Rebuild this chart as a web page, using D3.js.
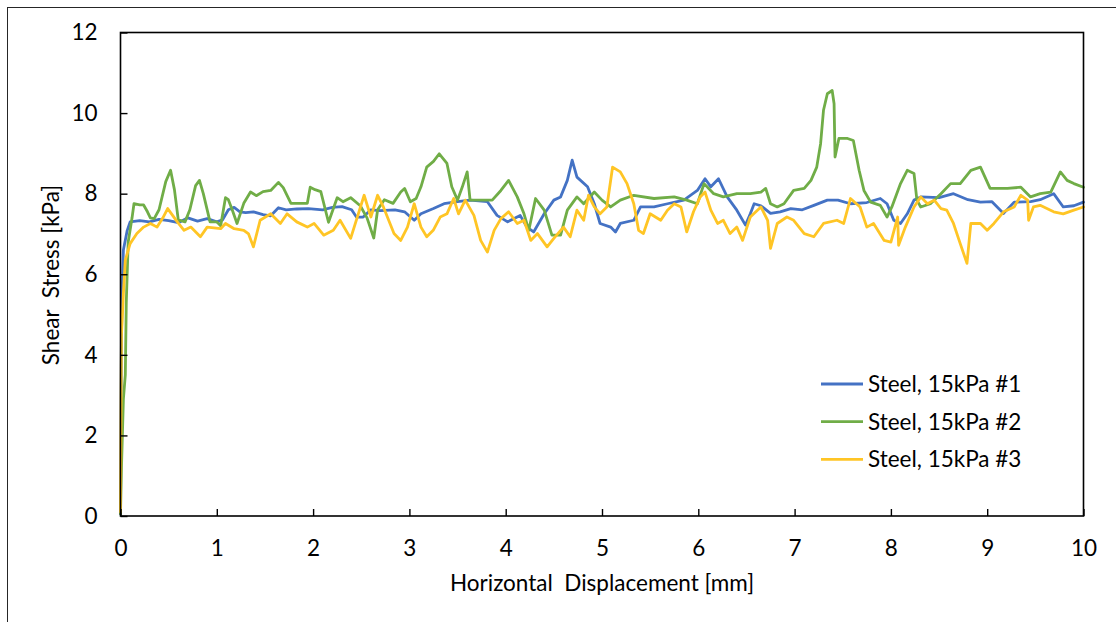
<!DOCTYPE html>
<html><head><meta charset="utf-8">
<script src="https://cdn.jsdelivr.net/npm/d3@7"></script>
<style>
html,body{margin:0;padding:0;background:#fff;}
svg{display:block;font-family:Lato,"Open Sans",sans-serif;}
</style></head>
<body><svg id="chart" width="1116" height="622"></svg>
<script>
const seriesNames = ["Steel, 15kPa #1", "Steel, 15kPa #2", "Steel, 15kPa #3"];
const seriesColors = ["#4472C4", "#70AD47", "#FFC525"];
const xTicks = [0,1,2,3,4,5,6,7,8,9,10];
const yTicks = [0,2,4,6,8,10,12];
const xLabel = "Horizontal  Displacement [mm]";
const yLabel = "Shear  Stress [kPa]";

// [displacement mm, shear stress kPa]
const steel1 = [[0,0.05],[0.005,2.5],[0.01,4.5],[0.02,5.8],[0.03,6.6],[0.07,7.09],[0.1,7.3],[0.2,7.33],[0.3,7.3],[0.4,7.36],[0.5,7.33],[0.6,7.28],[0.7,7.4],[0.8,7.32],[0.9,7.38],[1.0,7.3],[1.06,7.35],[1.12,7.6],[1.18,7.66],[1.24,7.55],[1.3,7.53],[1.38,7.55],[1.48,7.48],[1.56,7.45],[1.64,7.65],[1.72,7.6],[1.83,7.62],[1.95,7.63],[2.1,7.6],[2.2,7.66],[2.3,7.68],[2.4,7.6],[2.45,7.42],[2.52,7.42],[2.6,7.6],[2.7,7.58],[2.85,7.6],[2.95,7.55],[3.05,7.34],[3.12,7.5],[3.25,7.63],[3.36,7.75],[3.5,7.8],[3.63,7.84],[3.81,7.8],[3.91,7.46],[4.02,7.3],[4.15,7.46],[4.22,7.17],[4.29,7.05],[4.4,7.5],[4.5,7.84],[4.57,7.92],[4.64,8.33],[4.69,8.83],[4.74,8.41],[4.85,8.17],[4.92,7.75],[4.98,7.26],[5.09,7.17],[5.14,7.05],[5.19,7.26],[5.33,7.34],[5.4,7.67],[5.54,7.67],[5.68,7.75],[5.85,7.84],[5.99,8.08],[6.07,8.37],[6.13,8.17],[6.21,8.37],[6.3,7.92],[6.4,7.59],[6.49,7.22],[6.54,7.5],[6.58,7.75],[6.65,7.7],[6.75,7.51],[6.85,7.55],[6.96,7.63],[7.08,7.6],[7.2,7.71],[7.34,7.84],[7.45,7.84],[7.58,7.75],[7.75,7.78],[7.89,7.88],[7.96,7.75],[8.03,7.34],[8.1,7.26],[8.17,7.5],[8.24,7.84],[8.31,7.92],[8.5,7.9],[8.65,8.0],[8.8,7.85],[8.93,7.79],[9.05,7.8],[9.17,7.51],[9.28,7.79],[9.45,7.8],[9.55,7.85],[9.69,8.0],[9.79,7.67],[9.9,7.7],[10.0,7.79]];

const steel2 = [[0,0.05],[0.01,1.2],[0.03,2.9],[0.05,3.5],[0.06,5.3],[0.08,6.8],[0.12,7.4],[0.14,7.75],[0.2,7.72],[0.24,7.72],[0.28,7.55],[0.31,7.4],[0.35,7.38],[0.4,7.6],[0.47,8.3],[0.52,8.58],[0.56,8.1],[0.6,7.35],[0.67,7.3],[0.72,7.6],[0.78,8.2],[0.82,8.33],[0.86,8.0],[0.93,7.3],[1.0,7.3],[1.04,7.2],[1.09,7.9],[1.12,7.85],[1.16,7.6],[1.21,7.26],[1.28,7.76],[1.35,8.04],[1.41,7.95],[1.48,8.05],[1.56,8.08],[1.64,8.28],[1.69,8.15],[1.77,7.76],[1.87,7.76],[1.94,7.76],[1.97,8.16],[2.02,8.1],[2.08,8.05],[2.16,7.29],[2.25,7.9],[2.31,7.8],[2.39,7.9],[2.49,7.7],[2.56,7.4],[2.63,6.9],[2.67,7.6],[2.74,7.85],[2.83,7.76],[2.91,8.04],[2.95,8.13],[3.01,7.8],[3.07,7.88],[3.12,8.17],[3.18,8.66],[3.25,8.8],[3.31,8.99],[3.39,8.75],[3.44,8.17],[3.5,7.84],[3.55,8.17],[3.6,8.54],[3.63,7.84],[3.74,7.84],[3.86,7.84],[3.95,8.08],[4.03,8.33],[4.12,7.92],[4.19,7.5],[4.24,7.09],[4.31,7.88],[4.4,7.59],[4.48,6.97],[4.57,6.97],[4.64,7.59],[4.74,7.92],[4.81,7.75],[4.92,8.04],[5.0,7.84],[5.09,7.67],[5.19,7.84],[5.33,7.96],[5.54,7.88],[5.75,7.92],[5.88,7.84],[5.99,7.75],[6.06,8.25],[6.16,8.0],[6.26,7.92],[6.4,8.0],[6.54,8.0],[6.65,8.04],[6.7,8.13],[6.75,7.75],[6.82,7.67],[6.89,7.75],[6.99,8.08],[7.1,8.13],[7.17,8.33],[7.23,8.66],[7.27,9.24],[7.3,10.07],[7.34,10.48],[7.39,10.56],[7.41,10.23],[7.42,8.91],[7.46,9.37],[7.55,9.37],[7.61,9.32],[7.67,8.58],[7.72,8.08],[7.79,7.79],[7.89,7.71],[7.96,7.42],[8.01,7.67],[8.1,8.25],[8.17,8.58],[8.24,8.5],[8.27,7.84],[8.31,7.67],[8.41,7.75],[8.52,8.0],[8.62,8.25],[8.72,8.25],[8.83,8.58],[8.93,8.66],[9.03,8.13],[9.21,8.13],[9.35,8.16],[9.45,7.92],[9.55,8.0],[9.66,8.04],[9.76,8.54],[9.83,8.33],[9.9,8.25],[10.0,8.16]];

const steel3 = [[0,0.1],[0.005,2.5],[0.01,4.5],[0.03,5.52],[0.05,6.35],[0.1,6.76],[0.17,7.01],[0.24,7.17],[0.31,7.26],[0.38,7.17],[0.44,7.4],[0.49,7.63],[0.59,7.3],[0.66,7.09],[0.73,7.17],[0.83,6.93],[0.9,7.17],[1.04,7.13],[1.09,7.26],[1.18,7.13],[1.28,7.09],[1.33,7.0],[1.38,6.68],[1.45,7.34],[1.56,7.5],[1.66,7.26],[1.73,7.5],[1.83,7.3],[1.94,7.17],[2.01,7.26],[2.11,6.97],[2.21,7.09],[2.28,7.34],[2.39,6.89],[2.53,7.96],[2.6,7.42],[2.67,7.96],[2.73,7.67],[2.84,7.01],[2.91,6.84],[2.98,7.17],[3.05,7.75],[3.12,7.17],[3.18,6.93],[3.25,7.1],[3.32,7.42],[3.39,7.5],[3.46,7.88],[3.51,7.5],[3.58,7.84],[3.67,7.46],[3.74,6.84],[3.81,6.55],[3.88,7.09],[3.95,7.38],[4.03,7.55],[4.12,7.26],[4.19,7.34],[4.26,6.84],[4.33,7.01],[4.43,6.68],[4.5,6.89],[4.6,7.17],[4.67,6.93],[4.74,7.59],[4.81,7.34],[4.86,7.96],[4.92,7.67],[4.98,7.5],[5.05,7.67],[5.11,8.66],[5.19,8.54],[5.26,8.25],[5.33,7.75],[5.38,7.09],[5.43,7.01],[5.5,7.5],[5.61,7.34],[5.68,7.59],[5.75,7.75],[5.82,7.67],[5.88,7.05],[5.95,7.55],[6.02,7.92],[6.07,8.04],[6.13,7.59],[6.2,7.26],[6.26,7.34],[6.33,7.01],[6.4,7.17],[6.46,6.84],[6.54,7.42],[6.65,7.67],[6.72,7.34],[6.75,6.64],[6.82,7.26],[6.92,7.42],[6.99,7.34],[7.1,7.01],[7.2,6.93],[7.3,7.26],[7.44,7.34],[7.51,7.26],[7.58,7.88],[7.68,7.67],[7.75,7.17],[7.82,7.26],[7.93,6.84],[8.0,6.8],[8.07,7.42],[8.08,6.72],[8.15,7.17],[8.24,7.67],[8.31,7.92],[8.38,7.75],[8.45,7.84],[8.52,7.63],[8.58,7.59],[8.65,7.26],[8.72,6.76],[8.79,6.27],[8.83,7.26],[8.93,7.26],[9.0,7.09],[9.07,7.26],[9.17,7.55],[9.28,7.67],[9.35,7.96],[9.42,7.84],[9.43,7.34],[9.48,7.67],[9.55,7.71],[9.69,7.55],[9.79,7.5],[9.9,7.59],[10.0,7.67]];

const allSeries = [steel1, steel2, steel3];

const svg = d3.select("#chart");
const plot = {left:120.5, right:1083.5, top:32.5, bottom:516};

// outer chart border
svg.append("rect").attr("x",7.5).attr("y",7.5).attr("width",1200).attr("height",700)
  .attr("fill","#fff").attr("stroke","#262626").attr("stroke-width",1);

const x = d3.scaleLinear().domain([0,10]).range([plot.left, plot.right]);
const y = d3.scaleLinear().domain([0,12]).range([plot.bottom, plot.top]);

const fontSize = 22.5;

// series
const line = d3.line().x(d=>x(d[0])).y(d=>y(d[1])).curve(d3.curveLinear);
allSeries.forEach((s,i)=>{
  svg.append("path").datum(s).attr("d",line).attr("fill","none")
    .attr("stroke",seriesColors[i]).attr("stroke-width",2.8)
    .attr("stroke-linejoin","round").attr("stroke-linecap","round");
});

// frame
svg.append("rect").attr("x",plot.left).attr("y",plot.top)
  .attr("width",plot.right-plot.left).attr("height",plot.bottom-plot.top)
  .attr("fill","none").attr("stroke","#000").attr("stroke-width",1.6);

// axes
const xAxis = d3.axisBottom(x).tickValues(xTicks).tickFormat(d3.format("d"))
  .tickSizeInner(-7).tickSizeOuter(0).tickPadding(24);
const gx = svg.append("g").attr("transform",`translate(0,${plot.bottom})`).call(xAxis);
const yAxis = d3.axisLeft(y).tickValues(yTicks).tickFormat(d3.format("d"))
  .tickSizeInner(-7).tickSizeOuter(0).tickPadding(23);
const gy = svg.append("g").attr("transform",`translate(${plot.left},0)`).call(yAxis);
[gx,gy].forEach(g=>{
  g.select(".domain").remove();
  g.selectAll(".tick line").attr("stroke","#000").attr("stroke-width",1.4);
  g.selectAll(".tick text").attr("fill","#000").attr("font-size",fontSize)
    .attr("font-family","Lato, 'Open Sans', sans-serif");
});

// axis titles
svg.append("text").attr("x",(plot.left+plot.right)/2).attr("y",591)
  .attr("text-anchor","middle").attr("font-size",fontSize).attr("fill","#000")
  .style("white-space","pre").attr("xml:space","preserve").text(xLabel);
svg.append("text").attr("transform","translate(59,275) rotate(-90)")
  .attr("text-anchor","middle").attr("font-size",fontSize).attr("fill","#000")
  .style("white-space","pre").attr("xml:space","preserve").text(yLabel);

// legend
const legY = [384, 421.7, 459.3];
seriesNames.forEach((n,i)=>{
  svg.append("line").attr("x1",821).attr("x2",863).attr("y1",legY[i]).attr("y2",legY[i])
    .attr("stroke",seriesColors[i]).attr("stroke-width",2.8);
  svg.append("text").attr("x",868).attr("y",legY[i]).attr("dy","0.36em")
    .attr("font-size",fontSize).attr("fill","#000").text(n);
});
</script></body></html>
